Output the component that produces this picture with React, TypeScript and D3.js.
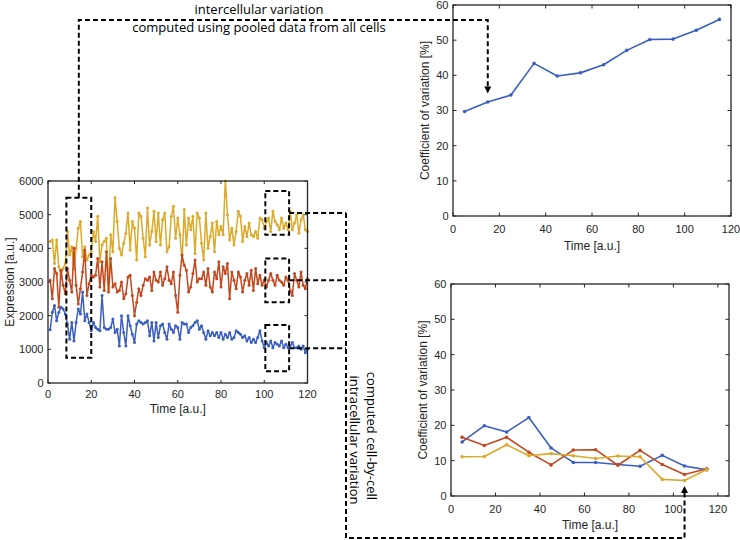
import React from "react";
import * as d3 from "d3";

// ---------- data ----------
const timePoints = d3.range(1, 121);

const blueExpr = [
  1580, 2100, 2300, 1850, 2100, 2250, 2200, 2050, 1750, 1300,
  1800, 1250, 1800, 2200, 2050, 2700, 1850, 2050, 1800, 1550,
  1800, 1650, 1600, 1550, 2600, 1650, 1600, 1600, 1650, 1900,
  1500, 1600, 1100, 2000, 1500, 1100, 2000, 1700, 1450, 1200,
  1750, 1850, 1800, 1750, 1800, 1850, 1400, 1800, 1250, 1800,
  1350, 1700, 1750, 1500, 1300, 1750, 1600, 1500, 1700, 1650,
  1300, 1800, 1750, 1750, 1500, 1650, 1700, 1800, 1850, 1600,
  1700, 1500, 1300, 1550, 1400, 1500, 1400, 1500, 1350, 1500,
  1300, 1450, 1350, 1500, 1300, 1350, 1550, 1500, 1450, 1350,
  1400, 1250, 1350, 1200, 1300, 1200, 1350, 1550, 1250, 1050,
  1200, 1100, 1250, 1050, 1200, 1150, 1100, 1250, 1050, 1150,
  1050, 1100, 1200, 1050, 1050, 1100, 1000, 1100, 900, 1000,
];

const redExpr = [
  3050, 2500, 3400, 3250, 2250, 3350, 2900, 2650, 3400, 3050,
  2700, 4000, 2900, 2350, 2800, 3300, 3950, 2600, 2950, 3200,
  3150, 3200, 3700, 2850, 3600, 2750, 3900, 2700, 3700, 2850,
  2950, 2700, 2750, 3000, 2500, 2650, 3150, 3200, 2600, 2000,
  2400, 2800, 2600, 2900, 3100, 3050, 3150, 2750, 3300, 3050,
  3000, 3300, 2900, 3100, 3450, 3050, 2950, 3300, 2600, 2100,
  3200, 3800, 3500, 3350, 2700, 2850, 3250, 3650, 3000, 3100,
  3100, 3300, 2900, 3400, 2850, 2700, 3300, 3100, 3600, 2850,
  3450, 3250, 3550, 2500, 3300, 3050, 2800, 3300, 3150, 2700,
  3050, 3250, 2900, 3350, 2750, 3400, 2950, 3200, 2900, 3050,
  2850, 3050, 3250, 3050, 2900, 3200, 3050, 3000, 2900, 3150,
  3050, 2750, 2600, 3250, 3050, 2850, 3300, 2900, 2800, 3100,
];

const yellowExpr = [
  4200, 4250, 3550, 4250, 3450, 3200, 3400, 3550, 4500, 3800,
  4050, 3400, 4000, 4600, 4800, 3750, 4050, 3650, 3800, 3900,
  4500, 4200, 4950, 3600, 4100, 4200, 4300, 2800, 4400, 3900,
  5500, 4800, 4000, 3800, 4150, 4450, 5050, 3950, 4800, 4600,
  3650, 5050, 4950, 4300, 3750, 5200, 4100, 4500, 5100, 4200,
  5050, 4100, 4850, 5050, 3900, 4050, 4950, 5250, 4300, 4900,
  4400, 3600, 5150, 4100, 4900, 4550, 4950, 3850, 5050, 4900,
  4150, 3650, 5050, 4000, 4350, 4750, 3900, 4800, 4400, 4650,
  4400, 6000, 5000, 4250, 4600, 4100, 4500, 5100, 4950, 4200,
  4650, 4350, 4750, 4400, 4350, 4500, 4300, 4900, 4850, 4600,
  4800, 4900, 4500, 5100, 4800, 4700, 4550, 4900, 4600, 4750,
  4550, 5100, 4550, 4750, 5000, 4450, 4850, 5000, 4550, 4500,
];

const cvTimes = [5, 15, 25, 35, 45, 55, 65, 75, 85, 95, 105, 115];
const pooledCV = [29.7, 32.4, 34.4, 43.4, 39.8, 40.7, 43.0, 47.1, 50.2, 50.3, 52.8, 55.9];
const blueCV = [15.3, 19.9, 18.1, 22.2, 13.6, 9.5, 9.5, 8.9, 8.4, 11.5, 8.5, 7.4];
const redCV = [16.6, 14.3, 16.6, 12.4, 8.8, 13.0, 13.1, 8.7, 12.9, 8.9, 6.1, 7.7];
const yellowCV = [11.1, 11.2, 14.5, 11.4, 12.0, 11.4, 10.6, 11.3, 11.1, 4.7, 4.4, 7.5];

const exprTicks = [0, 1000, 2000, 3000, 4000, 5000, 6000];
const timeTicks = [0, 20, 40, 60, 80, 100, 120];
const cvTicks = [0, 10, 20, 30, 40, 50, 60];

// ---------- style ----------
const BLUE = "#3b5fc0";
const RED = "#c2481f";
const YELLOW = "#dcaa2a";
const AX = "#262626";
const AXFONT = "'Liberation Sans', Arial, sans-serif";
const NOTEFONT = "'Open Sans', 'Noto Sans', sans-serif";

type Series = { xs: number[]; ys: number[]; color: string; width: number; r: number };

function Axes(props: {
  x: d3.ScaleLinear<number, number>;
  y: d3.ScaleLinear<number, number>;
  xTicks: number[];
  yTicks: number[];
  xLabel: string;
  yLabel: string;
  series: Series[];
  tickLen: number;
  xTickDy: number;
  xLabelDy: number;
  yLabelX: number;
}) {
  const { x, y, xTicks, yTicks, xLabel, yLabel, series, tickLen, xTickDy, xLabelDy, yLabelX } = props;
  const [x0, x1] = x.range();
  const [y0, y1] = y.range(); // y0 bottom, y1 top
  const line = (s: Series) =>
    d3
      .line<number>()
      .x((_, i) => x(s.xs[i]))
      .y((d) => y(d))(s.ys) || "";
  return (
    <g>
      {series.map((s, k) => (
        <g key={k}>
          <path d={line(s)} fill="none" stroke={s.color} strokeWidth={s.width} strokeLinejoin="round" />
          {s.ys.map((v, i) => (
            <circle key={i} cx={x(s.xs[i])} cy={y(v)} r={s.r} fill={s.color} />
          ))}
        </g>
      ))}
      {xTicks.map((t) => (
        <g key={"xt" + t}>
          <line x1={x(t)} x2={x(t)} y1={y0} y2={y0 - tickLen} stroke={AX} strokeWidth={1} />
          <line x1={x(t)} x2={x(t)} y1={y1} y2={y1 + tickLen} stroke={AX} strokeWidth={1} />
          <text x={x(t)} y={y0 + xTickDy} textAnchor="middle" fontSize={11} fill={AX} fontFamily={AXFONT}>
            {t}
          </text>
        </g>
      ))}
      {yTicks.map((t) => (
        <g key={"yt" + t}>
          <line x1={x0} x2={x0 + tickLen} y1={y(t)} y2={y(t)} stroke={AX} strokeWidth={1} />
          <line x1={x1} x2={x1 - tickLen} y1={y(t)} y2={y(t)} stroke={AX} strokeWidth={1} />
          <text x={x0 - 4.5} y={y(t)} dy="0.36em" textAnchor="end" fontSize={11} fill={AX} fontFamily={AXFONT}>
            {t}
          </text>
        </g>
      ))}
      <rect x={x0} y={y1} width={x1 - x0} height={y0 - y1} fill="none" stroke={AX} strokeWidth={1.3} />
      <text x={(x0 + x1) / 2} y={y0 + xLabelDy} textAnchor="middle" fontSize={12} fill={AX} fontFamily={AXFONT}>
        {xLabel}
      </text>
      <text
        transform={`translate(${yLabelX},${(y0 + y1) / 2}) rotate(-90)`}
        textAnchor="middle"
        fontSize={12}
        fill={AX}
        fontFamily={AXFONT}
      >
        {yLabel}
      </text>
    </g>
  );
}

export default function App() {
  // left: expression time series
  const xL = d3.scaleLinear().domain([0, 120]).range([48, 307.5]);
  const yL = d3.scaleLinear().domain([0, 6000]).range([383, 181]);
  // top right: pooled CV
  const xT = d3.scaleLinear().domain([0, 120]).range([453, 731]);
  const yT = d3.scaleLinear().domain([0, 60]).range([216, 5]);
  // bottom right: cell-by-cell CV
  const xB = d3.scaleLinear().domain([0, 125]).range([451, 729]);
  const yB = d3.scaleLinear().domain([0, 60]).range([496, 284]);

  const dash = "5,3";
  const dstroke = { stroke: "#000", strokeWidth: 2, strokeDasharray: dash, fill: "none" } as const;

  // dashed boxes in the left chart
  const box1 = { t0: 8.5, t1: 20, v0: 750, v1: 5500 };
  const rightBoxes = [
    { t0: 100.5, t1: 111.5, v0: 4400, v1: 5700 },
    { t0: 100.5, t1: 111.5, v0: 2400, v1: 3700 },
    { t0: 100.5, t1: 111.5, v0: 350, v1: 1720 },
  ];
  const b1x = (xL(box1.t0) + xL(box1.t1)) / 2;
  const topY = 20;
  const arrowTop = { x: xT(15), y: yT(34.8) };
  const vX = 346;
  const botY = 538;
  const arrowBot = { x: xB(105), y: yB(2.8) };
  const midY = (b: { v0: number; v1: number }) => (yL(b.v0) + yL(b.v1)) / 2;

  return (
    <svg
      width={740}
      height={540}
      style={{ position: "absolute", left: 0, top: 0, background: "#fff" }}
      xmlns="http://www.w3.org/2000/svg"
    >
      <rect width={740} height={540} fill="#fff" />
      <Axes
        x={xL}
        y={yL}
        xTicks={timeTicks}
        yTicks={exprTicks}
        xLabel="Time [a.u.]"
        yLabel="Expression [a.u.]"
        tickLen={3}
        xTickDy={15}
        xLabelDy={30}
        yLabelX={14}
        series={[
          { xs: timePoints, ys: yellowExpr, color: YELLOW, width: 1.5, r: 1.5 },
          { xs: timePoints, ys: redExpr, color: RED, width: 1.5, r: 1.5 },
          { xs: timePoints, ys: blueExpr, color: BLUE, width: 1.5, r: 1.5 },
        ]}
      />
      <Axes
        x={xT}
        y={yT}
        xTicks={timeTicks}
        yTicks={cvTicks}
        xLabel="Time [a.u.]"
        yLabel="Coefficient of variation [%]"
        tickLen={3.5}
        xTickDy={17}
        xLabelDy={34}
        yLabelX={429}
        series={[{ xs: cvTimes, ys: pooledCV, color: BLUE, width: 1.6, r: 1.8 }]}
      />
      <Axes
        x={xB}
        y={yB}
        xTicks={timeTicks}
        yTicks={cvTicks}
        xLabel="Time [a.u.]"
        yLabel="Coefficient of variation [%]"
        tickLen={3.5}
        xTickDy={17}
        xLabelDy={33}
        yLabelX={427}
        series={[
          { xs: cvTimes, ys: blueCV, color: BLUE, width: 1.6, r: 1.8 },
          { xs: cvTimes, ys: redCV, color: RED, width: 1.6, r: 1.8 },
          { xs: cvTimes, ys: yellowCV, color: YELLOW, width: 1.6, r: 1.8 },
        ]}
      />

      {/* dashed boxes */}
      <rect
        x={xL(box1.t0)}
        y={yL(box1.v1)}
        width={xL(box1.t1) - xL(box1.t0)}
        height={yL(box1.v0) - yL(box1.v1)}
        {...dstroke}
      />
      {rightBoxes.map((b, i) => (
        <g key={i}>
          <rect
            x={xL(b.t0)}
            y={yL(b.v1)}
            width={xL(b.t1) - xL(b.t0)}
            height={yL(b.v0) - yL(b.v1)}
            {...dstroke}
          />
          <line x1={xL(b.t1)} x2={vX} y1={midY(b)} y2={midY(b)} {...dstroke} />
        </g>
      ))}

      {/* intercellular connector */}
      <path
        d={`M${b1x},${yL(box1.v1)} V${topY} H${arrowTop.x} V${arrowTop.y - 6}`}
        {...dstroke}
      />
      <path
        d={`M${arrowTop.x - 3.5},${arrowTop.y - 7} L${arrowTop.x + 3.5},${arrowTop.y - 7} L${arrowTop.x},${arrowTop.y} Z`}
        fill="#000"
      />
      {/* intracellular connector */}
      <path
        d={`M${vX},${midY(rightBoxes[0])} V${botY} H${arrowBot.x} V${arrowBot.y + 6}`}
        {...dstroke}
      />
      <path
        d={`M${arrowBot.x - 3.5},${arrowBot.y + 7} L${arrowBot.x + 3.5},${arrowBot.y + 7} L${arrowBot.x},${arrowBot.y} Z`}
        fill="#000"
      />

      {/* annotations */}
      <text x={259} y={14} textAnchor="middle" fontSize={13} fontFamily={NOTEFONT} fill="#000">
        intercellular variation
      </text>
      <text x={259} y={32} textAnchor="middle" fontSize={13} fontFamily={NOTEFONT} fill="#000">
        computed using pooled data from all cells
      </text>
      <text
        transform={`translate(350,440) rotate(90)`}
        textAnchor="middle"
        fontSize={13}
        fontFamily={NOTEFONT}
        fill="#000"
      >
        intracellular variation
      </text>
      <text
        transform={`translate(367,436) rotate(90)`}
        textAnchor="middle"
        fontSize={13}
        fontFamily={NOTEFONT}
        fill="#000"
      >
        computed cell-by-cell
      </text>
    </svg>
  );
}
